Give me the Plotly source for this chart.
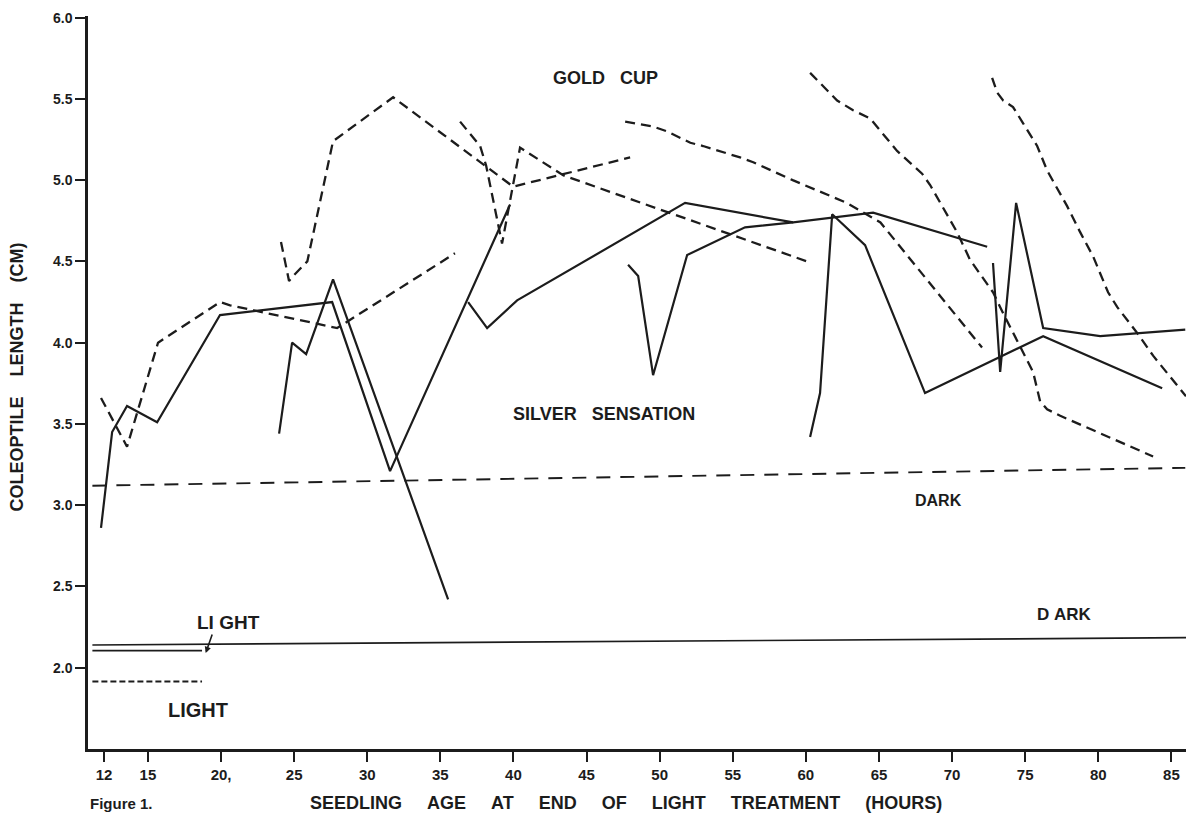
import plotly.graph_objects as go

INK = "#1c1c1c"

# ---------------- data (hours, coleoptile length in cm) ----------------
# Gold Cup (dashed curves)
g1_h = [11.79, 12.55, 13.57, 15.69, 17.2, 19.93, 20.62, 27.94, 36.0]
g1_v = [3.66, 3.53, 3.36, 4.00, 4.09, 4.25, 4.23, 4.09, 4.55]

g2_h = [24.1, 24.65, 24.93, 25.9, 27.66, 31.77, 39.98, 47.98]
g2_v = [4.62, 4.38, 4.41, 4.50, 5.24, 5.51, 4.96, 5.14]

g3_h = [36.35, 37.72, 38.13, 39.22, 40.45, 43.4, 60.08]
g3_v = [5.36, 5.21, 5.09, 4.61, 5.20, 5.03, 4.50]

g4_h = [47.64, 49.55, 50.5, 52.1, 52.97, 55.5, 56.4, 59.1, 62.8, 65.1, 72.05]
g4_v = [5.36, 5.33, 5.30, 5.23, 5.21, 5.14, 5.11, 5.00, 4.86, 4.74, 3.97]

g5_h = [60.29, 61.45, 62.14, 63.23, 64.39, 66.24, 67.95, 68.5, 70.34, 71.23,
        72.8, 73.5, 75.54, 76.02, 76.5, 77.4, 83.75]
g5_v = [5.66, 5.55, 5.49, 5.43, 5.38, 5.18, 5.04, 4.97, 4.68, 4.51,
        4.31, 4.18, 3.82, 3.64, 3.59, 3.55, 3.30]

g6_h = [72.74, 73.08, 73.49, 74.17, 74.86, 75.82, 76.5, 77.87, 78.76, 79.65,
        80.67, 81.29, 82.66, 83.75, 86.0]
g6_v = [5.63, 5.54, 5.49, 5.45, 5.35, 5.21, 5.06, 4.84, 4.68, 4.53,
        4.31, 4.22, 4.06, 3.92, 3.67]

# Silver Sensation (solid curves)
s1_h = [11.79, 12.55, 13.57, 15.63, 19.93, 27.6, 31.56, 39.77]
s1_v = [2.86, 3.45, 3.61, 3.51, 4.17, 4.25, 3.21, 4.85]

s2_h = [23.97, 24.86, 25.82, 27.66, 35.53]
s2_v = [3.44, 4.00, 3.93, 4.39, 2.42]

s3_h = [36.9, 38.2, 40.25, 51.74, 59.13, 61.8, 64.6, 72.4]
s3_v = [4.25, 4.09, 4.26, 4.86, 4.74, 4.77, 4.80, 4.59]

s4_h = [47.84, 48.53, 49.55, 51.88, 55.84, 59.13]
s4_v = [4.48, 4.41, 3.80, 4.54, 4.71, 4.74]

s5_h = [60.29, 60.97, 61.8, 64.05, 68.15, 76.23, 84.37]
s5_v = [3.42, 3.69, 4.79, 4.60, 3.69, 4.04, 3.72]

s6_h = [72.8, 73.29, 74.38, 76.23, 80.13, 85.95]
s6_v = [4.49, 3.82, 4.86, 4.09, 4.04, 4.08]

# reference levels (dark controls and light controls)
dark_gc_h = [11.2, 85.95]
dark_gc_v = [3.12, 3.23]
dark_ss_h = [11.2, 86.0]
dark_ss_v = [2.14, 2.185]
light_ss_h = [11.2, 18.7]
light_ss_v = [2.105, 2.105]
light_gc_h = [11.2, 18.7]
light_gc_v = [1.915, 1.915]

x_ticks = [12, 15, 20, 25, 30, 35, 40, 45, 50, 55, 60, 65, 70, 75, 80, 85]
x_labels = ["12", "15", "20,", "25", "30", "35", "40", "45", "50", "55",
            "60", "65", "70", "75", "80", "85"]
y_ticks = [2.0, 2.5, 3.0, 3.5, 4.0, 4.5, 5.0, 5.5, 6.0]
y_labels = ["2.0", "2.5", "3.0", "3.5", "4.0", "4.5", "5.0", "5.5", "6.0"]

# ---------------- figure ----------------
fig = go.Figure()

gold = [(g1_h, g1_v), (g2_h, g2_v), (g3_h, g3_v), (g4_h, g4_v), (g5_h, g5_v), (g6_h, g6_v)]
silver = [(s1_h, s1_v), (s2_h, s2_v), (s3_h, s3_v), (s4_h, s4_v), (s5_h, s5_v), (s6_h, s6_v)]

for h, v in gold:
    fig.add_trace(go.Scatter(x=h, y=v, mode="lines", hoverinfo="skip",
                             line=dict(color=INK, width=2.3, dash="10px,6px")))
for h, v in silver:
    fig.add_trace(go.Scatter(x=h, y=v, mode="lines", hoverinfo="skip",
                             line=dict(color=INK, width=2.2)))

fig.add_trace(go.Scatter(x=dark_gc_h, y=dark_gc_v, mode="lines", hoverinfo="skip",
                         line=dict(color=INK, width=1.9, dash="14px,10px")))
fig.add_trace(go.Scatter(x=dark_ss_h, y=dark_ss_v, mode="lines", hoverinfo="skip",
                         line=dict(color=INK, width=1.7)))
fig.add_trace(go.Scatter(x=light_ss_h, y=light_ss_v, mode="lines", hoverinfo="skip",
                         line=dict(color=INK, width=1.7)))
fig.add_trace(go.Scatter(x=light_gc_h, y=light_gc_v, mode="lines", hoverinfo="skip",
                         line=dict(color=INK, width=1.9, dash="6px,3px")))

FONT = "Liberation Sans, Arial, sans-serif"
NB = "\u00a0"

def label(x, y, text, size=15, xanchor="center"):
    fig.add_annotation(x=x, y=y, xref="x", yref="y", text="<b>" + text + "</b>",
                       showarrow=False, xanchor=xanchor, yanchor="middle",
                       font=dict(family=FONT, size=size, color=INK))

label(46.3, 5.63, "GOLD" + NB * 3 + "CUP", 18)
label(46.2, 3.56, "SILVER" + NB * 3 + "SENSATION", 18)
label(69.05, 3.03, "DARK", 16)
label(77.7, 2.33, "D" + NB + "ARK", 17)
label(20.5, 2.28, "LI" + NB + "GHT", 19)
label(18.4, 1.74, "LIGHT", 20)

# small hook arrow under the upper LIGHT label
fig.add_annotation(x=18.95, y=2.09, xref="x", yref="y", text="", showarrow=True,
                   ax=7, ay=-20, arrowhead=2, arrowsize=0.8, arrowwidth=1.6,
                   arrowcolor=INK)

# axis titles and figure caption
xt = (NB * 5).join(["SEEDLING", "AGE", "AT", "END", "OF", "LIGHT", "TREATMENT", "(HOURS)"])
fig.add_annotation(x=0.4896, y=-0.0737, xref="paper", yref="paper", text="<b>" + xt + "</b>",
                   showarrow=False, xanchor="center", yanchor="middle",
                   font=dict(family=FONT, size=18, color=INK))
fig.add_annotation(x=0.0, y=-0.0737, xref="paper", yref="paper", text="<b>Figure 1.</b>",
                   showarrow=False, xanchor="left", yanchor="middle",
                   font=dict(family=FONT, size=15, color=INK))
yt = (NB * 4).join(["COLEOPTILE", "LENGTH", "(CM)"])
fig.add_annotation(x=-0.0647, y=0.508, xref="paper", yref="paper", text="<b>" + yt + "</b>",
                   showarrow=False, xanchor="center", yanchor="middle", textangle=-90,
                   font=dict(family=FONT, size=18, color=INK))

fig.update_layout(
    width=1196, height=825,
    margin=dict(l=88, r=10, t=16, b=76),
    paper_bgcolor="white", plot_bgcolor="white",
    showlegend=False,
    xaxis=dict(range=[10.9, 86.0], showline=True, linewidth=2.5, linecolor=INK,
               ticks="outside", ticklen=10, tickwidth=2, tickcolor=INK,
               tickvals=x_ticks, ticktext=["<b>" + t + "</b>" for t in x_labels],
               tickfont=dict(family=FONT, size=15, color=INK),
               showgrid=False, zeroline=False),
    yaxis=dict(range=[1.5, 6.01], showline=True, linewidth=2.5, linecolor=INK,
               ticks="outside", ticklen=10, tickwidth=2, tickcolor=INK,
               tickvals=y_ticks, ticktext=["<b>" + t + "</b>" for t in y_labels],
               tickfont=dict(family=FONT, size=14, color=INK),
               showgrid=False, zeroline=False),
)

fig.write_html("out.html")
